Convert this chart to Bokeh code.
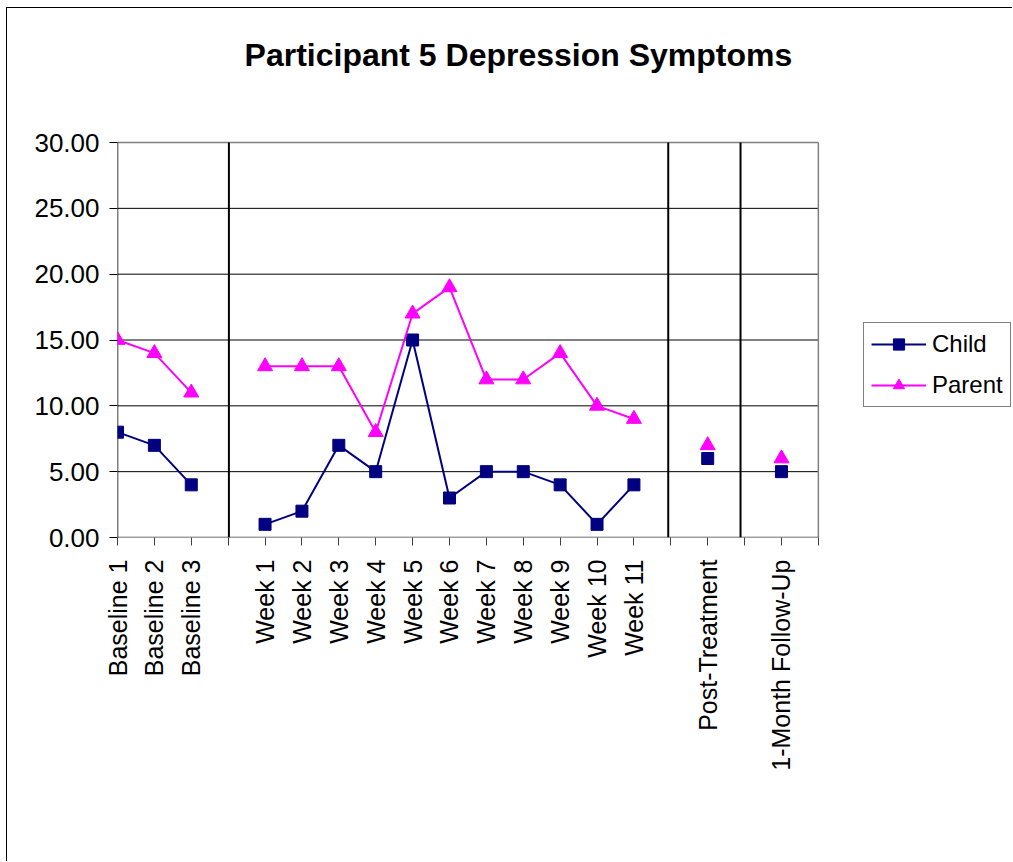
import math
from bokeh.plotting import figure
from bokeh.models import (FixedTicker, NumeralTickFormatter, Legend, LegendItem,
                          Range1d, ColumnDataSource, Label)
from bokeh.embed import file_html
from bokeh.resources import INLINE

# Session labels along the x axis; empty strings are the gaps between phases
categories = ["Baseline 1", "Baseline 2", "Baseline 3", "",
              "Week 1", "Week 2", "Week 3", "Week 4", "Week 5", "Week 6",
              "Week 7", "Week 8", "Week 9", "Week 10", "Week 11", "",
              "Post-Treatment", "", "1-Month Follow-Up", ""]

nan = float("nan")
# Depression symptom scores (NaN = no session in that slot)
child = [8, 7, 4, nan, 1, 2, 7, 5, 15, 3, 5, 5, 4, 1, 4, nan, 6, nan, 5, nan]
parent = [15, 14, 11, nan, 13, 13, 13, 8, 17, 19, 12, 12, 14, 10, 9, nan, 7, nan, 6, nan]

# Phase-change lines between baseline, treatment, post-treatment and follow-up
phase_breaks = [3.02, 14.93, 16.89]

y_ticks = [0, 5, 10, 15, 20, 25, 30]

TITLE = "Participant 5 Depression Symptoms"
FONT = "Liberation Sans"
NAVY = "#000080"
MAGENTA = "#FF00FF"

xs = list(range(len(categories)))
x_end = len(categories) - 1
y_top = max(y_ticks)
src = ColumnDataSource(dict(x=xs, child=child, parent=parent))

# The frame runs on past the plotted area (right for the legend, top for the
# title); the plot-area box, grid and phase lines are drawn inside [0, x_end] x [0, y_top].
p = figure(width=1006, height=854, output_backend="svg", toolbar_location=None,
           x_range=Range1d(0, 24.29), y_range=Range1d(0, 40.18),
           min_border_left=110, min_border_right=0, min_border_top=0,
           min_border_bottom=325)
p.styles = {"margin-left": "6px", "margin-top": "7px",
            "border-left": "1px solid black", "border-top": "1px solid black"}

p.background_fill_color = "white"
p.border_fill_color = "white"
p.outline_line_color = None
p.xgrid.visible = False
p.ygrid.visible = False

# Grid lines and plot-area box
grid_levels = [t for t in y_ticks if 0 < t < y_top]
p.segment(x0=[0] * len(grid_levels), y0=grid_levels,
          x1=[x_end] * len(grid_levels), y1=grid_levels,
          line_color="black", line_width=1)
p.segment(x0=[0, x_end], y0=[y_top, 0], x1=[x_end, x_end], y1=[y_top, y_top],
          line_color="#808080", line_width=1.5)
p.segment(x0=[0], y0=[0], x1=[x_end], y1=[0], line_color="#404040", line_width=1.5)
p.segment(x0=[0], y0=[0], x1=[0], y1=[y_top], line_color="black", line_width=1.5)

# Phase-change lines
p.segment(x0=phase_breaks, y0=[0] * len(phase_breaks), x1=phase_breaks,
          y1=[y_top] * len(phase_breaks), line_color="black", line_width=2)

# Title
p.add_layout(Label(x=10.87, y=36.65, text=TITLE, text_align="center",
                   text_baseline="alphabetic", text_font=FONT, text_font_size="32px",
                   text_font_style="bold", text_color="black"))

# Y axis
p.yaxis.ticker = FixedTicker(ticks=y_ticks)
p.yaxis.formatter = NumeralTickFormatter(format="0.00")
p.yaxis.major_label_text_font = FONT
p.yaxis.major_label_text_font_size = "26px"
p.yaxis.major_label_text_color = "black"
p.yaxis.major_tick_out = 8
p.yaxis.major_tick_in = 0
p.yaxis.minor_tick_line_color = None
p.yaxis.axis_line_color = None
p.yaxis.major_tick_line_color = "black"
p.yaxis.major_label_standoff = 10

# X axis
p.xaxis.ticker = FixedTicker(ticks=xs)
p.xaxis.major_label_overrides = {i: lab for i, lab in enumerate(categories)}
p.xaxis.major_label_orientation = math.pi / 2
p.xaxis.major_label_text_font = FONT
p.xaxis.major_label_text_font_size = "25px"
p.xaxis.major_label_text_color = "black"
p.xaxis.major_tick_out = 8
p.xaxis.major_tick_in = 0
p.xaxis.minor_tick_line_color = None
p.xaxis.axis_line_color = None
p.xaxis.major_tick_line_color = "#404040"
p.xaxis.major_label_standoff = 14

# Series
cl = p.line("x", "child", source=src, line_color=NAVY, line_width=2)
cs = p.scatter("x", "child", source=src, marker="square", size=12,
               fill_color=NAVY, line_color=NAVY)
pl = p.line("x", "parent", source=src, line_color=MAGENTA, line_width=2)
ps = p.scatter("x", "parent", source=src, marker="triangle", size=15,
               fill_color=MAGENTA, line_color=MAGENTA)

legend = Legend(items=[LegendItem(label="Child", renderers=[cl, cs]),
                       LegendItem(label="Parent", renderers=[pl, ps])],
                location=(746, 130), margin=0, padding=7, spacing=13,
                glyph_width=55, glyph_height=28, label_height=28,
                label_standoff=6,
                label_text_font=FONT, label_text_font_size="24px",
                label_text_color="black",
                border_line_color="black", border_line_width=1,
                background_fill_color="white", background_fill_alpha=1)
p.add_layout(legend)

open("out.html", "w").write(file_html(p, INLINE))
